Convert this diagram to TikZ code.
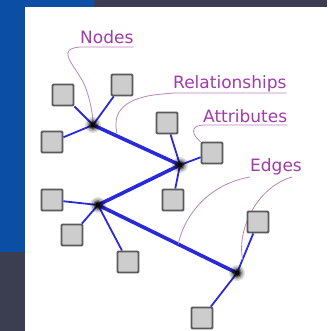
\documentclass[tikz,border=0pt]{standalone}
\usepackage{fontspec}
\setmainfont{DejaVu Sans}

\definecolor{slideblue}{HTML}{0B4EA6}
\definecolor{slidegray}{HTML}{3B3E50}
\definecolor{edgeblue}{HTML}{2A2AD8}
\definecolor{notepurple}{HTML}{A03CA8}
\definecolor{leaderpurple}{HTML}{B985BC}
\definecolor{boxgray}{HTML}{CDCDCD}
\definecolor{boxrim}{HTML}{5A5A5A}

\pgfdeclarelayer{back}
\pgfdeclarelayer{wires}
\pgfsetlayers{back,wires,main}

\tikzset{
  attr/.style={draw=boxrim, line width=1.8pt, fill=boxgray, minimum size=21pt, inner sep=0pt, rounded corners=1pt},
  hub/.style={circle, inner sep=0pt, minimum size=5pt},
  link/.style={edgeblue, line width=1.8pt},
  rel/.style={edgeblue, line width=3.6pt},
  note/.style={text=notepurple, font=\fontsize{17}{17}\selectfont, inner sep=0pt, anchor=base west},
  leader/.style={leaderpurple, line width=0.8pt},
}

\begin{document}
\begin{tikzpicture}[x=1pt, y=-1pt]
	% slide background and white panel
	\begin{pgfonlayer}{back}
	\fill[slidegray] (0,0) rectangle (327,331);
	\fill[slideblue] (0,0) rectangle (94,252);
	\fill[white] (25,7) rectangle (327,331);
	\end{pgfonlayer}
	\useasboundingbox (0,0) rectangle (327,331);
	
	% hubs
	\node[hub] (hA) at (93,125) {};
	\node[hub] (hB) at (180,165) {};
	\node[hub] (hC) at (98,205) {};
	\node[hub] (hD) at (237,273) {};
	
	% attribute boxes
	\node[attr] (a1) at (63,95) {};
	\node[attr] (a2) at (122,85) {};
	\node[attr] (a3) at (52,142) {};
	\node[attr] (b1) at (167,123) {};
	\node[attr] (b2) at (212,153) {};
	\node[attr] (b3) at (173,200) {};
	\node[attr] (c1) at (52,200) {};
	\node[attr] (c2) at (72,235) {};
	\node[attr] (c3) at (128,262) {};
	\node[attr] (d1) at (258,222) {};
	\node[attr] (d2) at (202,318) {};
	
	% labels
	\node[note] (lnodes) at (80,44) {Nodes};
	\node[note] (lrel) at (173,89) {Relationships};
	\node[note] (lattr) at (203,122) {Attributes};
	\node[note] (ledges) at (250,171) {Edges};
	
	\begin{pgfonlayer}{wires}
	% leader lines
	\draw[leader] ([yshift=-3pt]lnodes.base east) -- ([yshift=-3pt]lnodes.base west)
		.. controls +(-22,2) and +(-12,-20) .. (82,80) .. controls +(6,10) and +(0,-12) .. (hA);
	\draw[leader] ([yshift=-4pt]lrel.base east) -- ([yshift=-4pt]lrel.base west) -- +(-10,1)
		.. controls +(-40,3) and +(-5,-20) .. (117,133);
	\draw[leader] ([yshift=-3pt]lattr.base east) -- ([yshift=-3pt]lattr.base west)
		.. controls +(-14,1) and +(-8,-6) .. (b2.north west);
	
	% edges
	\draw[rel] (hA) -- (hB);
	\draw[rel] (hB) -- (hC);
	\draw[rel] (hC) -- coordinate[pos=0.58] (onCD) (hD);
	\foreach \h/\s in {hA/a1, hA/a2, hA/a3, hB/b1, hB/b2, hB/b3, hC/c1, hC/c2, hC/c3, hD/d2}
		\draw[link] (\h) -- (\s);
	\draw[link] (hD) -- coordinate[pos=0.3] (onDd) (d1);
	\draw[leader] ([yshift=-6pt]ledges.base west) .. controls +(-45,8) and +(5,-25) .. (onCD);
	\draw[leader] ([yshift=-6pt,xshift=-10pt]ledges.base east) .. controls +(-35,10) and +(-6,-30) .. (onDd);
	
	% soft hub dots
	\foreach \h in {hA,hB,hC,hD}
		\foreach \r/\o in {8/0.12, 6.5/0.18, 5/0.3, 3.8/0.5, 2.6/0.9}
			\fill[black, opacity=\o] (\h) circle (\r pt);
	\end{pgfonlayer}
\end{tikzpicture}
\end{document}
